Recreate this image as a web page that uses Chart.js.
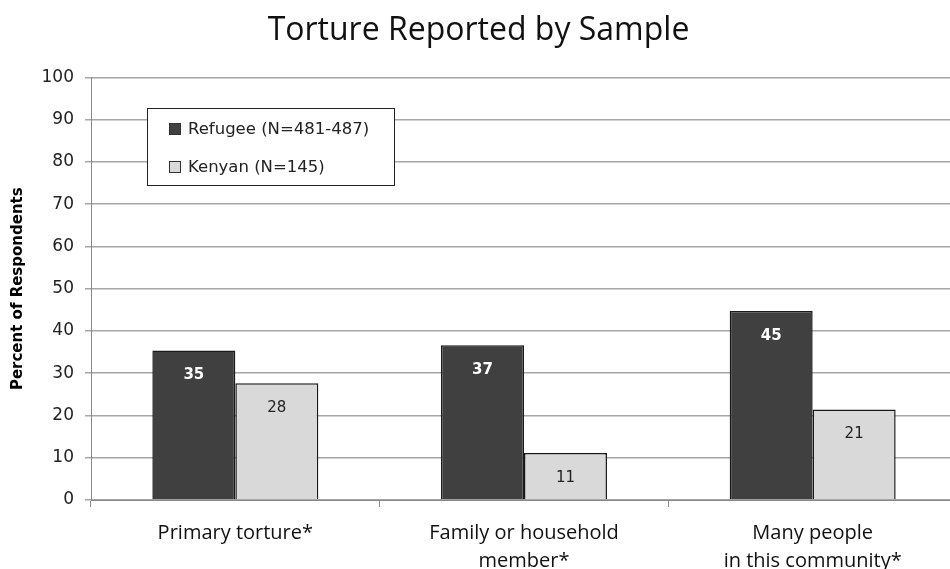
<!DOCTYPE html>
<html>
<head>
<meta charset="utf-8">
<script src="https://cdn.jsdelivr.net/npm/chart.js@4.4.0/dist/chart.umd.min.js"></script>
<style>
  html, body { margin: 0; padding: 0; background: #fff; overflow: hidden; }
  #wrap { width: 958px; height: 569px; }
</style>
</head>
<body>
<div id="wrap"><canvas id="myChart"></canvas></div>
<script>
const categories = [
  ['Primary torture*'],
  ['Family or household', 'member*'],
  ['Many people', 'in this community*'],
];
const refugee = [35.4, 36.6, 44.7];
const kenyan = [27.6, 11.1, 21.4];
const seriesLabels = ['Refugee (N=481-487)', 'Kenyan (N=145)'];
const yTicks = [0, 10, 20, 30, 40, 50, 60, 70, 80, 90, 100];

// value labels inside bar tops
const barLabels = {
  id: 'barLabels',
  afterDatasetsDraw(chart) {
    const { ctx } = chart;
    ctx.save();
    ctx.textAlign = 'center';
    ctx.textBaseline = 'middle';
    chart.data.datasets.forEach((ds, i) => {
      ctx.font = (i === 0 ? 'bold ' : '') + '15px "DejaVu Sans"';
      chart.getDatasetMeta(i).data.forEach((bar, j) => {
        ctx.fillStyle = i === 0 ? '#ffffff' : '#222222';
        ctx.fillText(Math.round(ds.data[j]), bar.x, bar.y + 25);
      });
    });
    ctx.restore();
  }
};

// boxed legend inside plot area
const boxLegend = {
  id: 'boxLegend',
  afterDraw(chart) {
    const { ctx } = chart;
    const x = 147, y = 108, w = 247, h = 77;
    ctx.save();
    ctx.fillStyle = '#fff';
    ctx.fillRect(x, y, w, h);
    ctx.strokeStyle = '#222';
    ctx.lineWidth = 1;
    ctx.strokeRect(x + 0.5, y + 0.5, w, h);
    ctx.font = '16.5px "DejaVu Sans"';
    ctx.textBaseline = 'middle';
    chart.data.datasets.forEach((ds, i) => {
      const cy = y + 21 + i * 38;
      ctx.fillStyle = ds.backgroundColor;
      ctx.fillRect(x + 22, cy - 6, 12, 12);
      ctx.strokeStyle = '#333';
      ctx.strokeRect(x + 22.5, cy - 5.5, 11, 11);
      ctx.fillStyle = '#222';
      ctx.fillText(ds.label, x + 41, cy + 1);
    });
    ctx.restore();
  }
};

const ctx = document.getElementById('myChart');

new Chart(ctx, {
  type: 'bar',
  data: {
    labels: categories,
    datasets: [
      {
        label: seriesLabels[0],
        data: refugee,
        backgroundColor: '#404040',
        borderColor: '#1a1a1a',
        borderWidth: 1.5,
      },
      {
        label: seriesLabels[1],
        data: kenyan,
        backgroundColor: '#d9d9d9',
        borderColor: '#1a1a1a',
        borderWidth: 1.5,
      },
    ],
  },
  options: {
    responsive: true,
    maintainAspectRatio: false,
    animation: false,
    categoryPercentage: 0.575,
    barPercentage: 1,
    layout: { padding: { right: 1, left: 0, top: 0, bottom: 0 } },
    plugins: {
      legend: { display: false },
      tooltip: { enabled: false },
      title: {
        display: true,
        text: 'Torture Reported by Sample',
        color: '#111',
        font: { family: 'Open Sans', size: 32, weight: 'normal', lineHeight: 1.2 },
        padding: { top: 12, bottom: 27 },
      },
    },
    scales: {
      x: {
        grid: {
          display: true,
          drawOnChartArea: false,
          offset: true,
          color: '#888',
          tickLength: 7,
        },
        border: { color: '#888' },
        ticks: {
          color: '#111',
          font: { family: 'Open Sans', size: 20, lineHeight: 1.4 },
          padding: 12,
          maxRotation: 0,
        },
        afterFit(scale) { scale.height = 69; },
      },
      y: {
        min: 0,
        max: 100,
        afterBuildTicks(scale) { scale.ticks = yTicks.map(v => ({ value: v })); },
        grid: { color: '#a6a6a6', tickLength: 6, lineWidth: 1.5 },
        border: { color: '#888' },
        ticks: { color: '#222', font: { family: 'DejaVu Sans', size: 17 }, padding: 11 },
        title: {
          display: true,
          text: 'Percent of Respondents',
          color: '#000',
          font: { family: 'DejaVu Sans', size: 15, weight: 'bold' },
          padding: { top: 9, bottom: 0 },
        },
        afterFit(scale) { scale.width = 91; },
      },
    },
  },
  plugins: [barLabels, boxLegend],
});
</script>
</body>
</html>
